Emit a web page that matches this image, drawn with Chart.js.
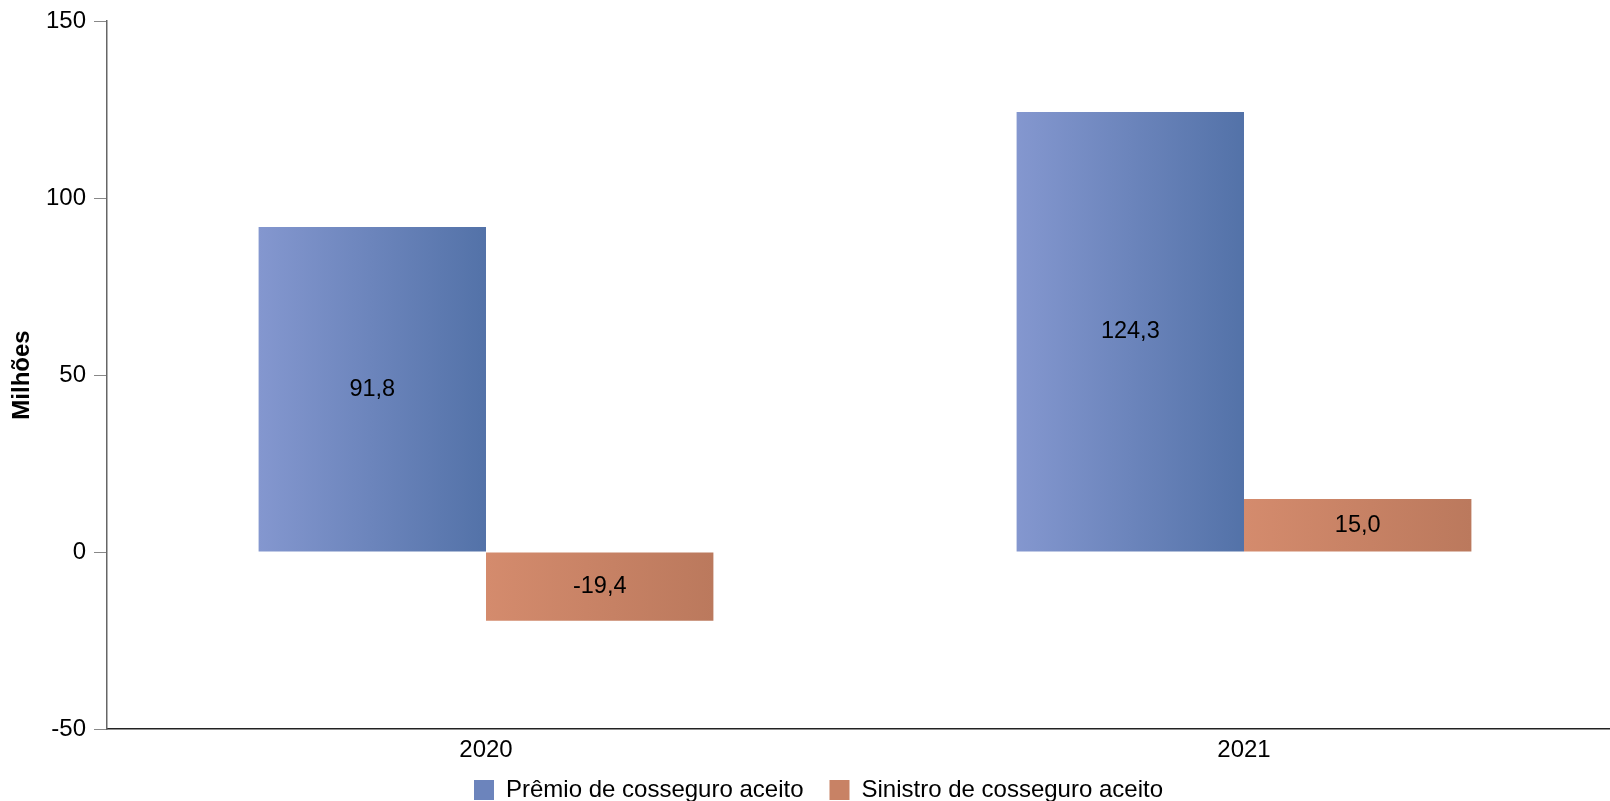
<!DOCTYPE html>
<html>
<head>
<meta charset="utf-8">
<script src="https://cdn.jsdelivr.net/npm/chart.js@4"></script>
<style>
  html, body { margin: 0; padding: 0; background: #fff; overflow: hidden; }
  #wrap { width: 1610px; height: 801px; }
</style>
</head>
<body>
<div id="wrap"><canvas id="chart"></canvas></div>
<script>
const years = ["2020", "2021"];
const premio = [91.8, 124.3];
const sinistro = [-19.4, 15.0];
const seriesNames = ["Prêmio de cosseguro aceito", "Sinistro de cosseguro aceito"];
const yTicks = [-50, 0, 50, 100, 150];

// gradient ends for each series (left -> right)
const blueStops = ["rgb(132,151,207)", "rgb(83,114,168)"];
const orangeStops = ["rgb(212,139,109)", "rgb(187,121,93)"];

const FONT = "'Liberation Sans', Arial, sans-serif";
const fmt = v => v.toFixed(1).replace(".", ",");

// plot box as measured on the reference
const AREA = { left: 107, top: 21, right: 1623, bottom: 729 };

// pin the plot area, axes and legend where the reference has them
const pinArea = {
  id: "pinArea",
  afterLayout(chart) {
    const a = chart.chartArea;
    Object.assign(a, AREA, { width: AREA.right - AREA.left, height: AREA.bottom - AREA.top });
    const x = chart.scales.x, y = chart.scales.y;
    Object.assign(x, { left: AREA.left, right: AREA.right, width: a.width, top: AREA.bottom, bottom: AREA.bottom + 36, height: 36 });
    Object.assign(y, { left: 0, right: AREA.left, width: AREA.left, top: AREA.top, bottom: AREA.bottom, height: a.height });
    x.configure();
    y.configure();
    const lg = chart.legend;
    const h = lg.bottom - lg.top;
    lg.top = 752;
    lg.bottom = lg.top + h;
    lg.left = 27;
    lg.right = 1610;
  }
};

// paint every bar with a horizontal gradient spanning its own width
const barGradient = {
  id: "barGradient",
  beforeDatasetsDraw(chart) {
    const ctx = chart.ctx;
    chart.data.datasets.forEach((ds, i) => {
      const stops = ds.gradStops;
      chart.getDatasetMeta(i).data.forEach(bar => {
        const g = ctx.createLinearGradient(bar.x - bar.width / 2, 0, bar.x + bar.width / 2, 0);
        g.addColorStop(0, stops[0]);
        g.addColorStop(1, stops[1]);
        bar.options.backgroundColor = g;
      });
    });
  }
};

// value in the middle of each bar
const barValues = {
  id: "barValues",
  afterDatasetsDraw(chart) {
    const ctx = chart.ctx;
    ctx.save();
    ctx.font = "23.5px " + FONT;
    ctx.fillStyle = "#000";
    ctx.textAlign = "center";
    ctx.textBaseline = "middle";
    chart.data.datasets.forEach((ds, i) => {
      chart.getDatasetMeta(i).data.forEach((bar, j) => {
        ctx.fillText(fmt(ds.data[j]), bar.x, (bar.y + bar.base) / 2);
      });
    });
    ctx.restore();
  }
};

const ctx = document.getElementById("chart").getContext("2d");
new Chart(ctx, {
  type: "bar",
  data: {
    labels: years,
    datasets: [{
      label: seriesNames[0],
      data: premio,
      gradStops: blueStops,
      // scriptable so each bar keeps its own options object
      backgroundColor: c => c.type === "data" ? "rgb(108,132,188)" : "rgb(108,132,188)",
      borderWidth: 0
    }, {
      label: seriesNames[1],
      data: sinistro,
      gradStops: orangeStops,
      backgroundColor: c => c.type === "data" ? "rgb(200,130,101)" : "rgb(200,130,101)",
      borderWidth: 0
    }]
  },
  options: {
    responsive: true,
    maintainAspectRatio: false,
    animation: false,
    datasets: { bar: { categoryPercentage: 0.6, barPercentage: 1.0 } },
    plugins: {
      tooltip: { enabled: false },
      legend: {
        position: "bottom",
        labels: {
          font: { family: FONT, size: 24 },
          color: "#000",
          boxWidth: 20,
          boxHeight: 20,
          padding: 26
        }
      }
    },
    scales: {
      x: {
        grid: { display: false, drawTicks: false },
        border: { color: "#222", width: 1.5 },
        ticks: {
          color: "#000",
          padding: 7,
          font: { family: FONT, size: 24 }
        }
      },
      y: {
        min: -50,
        max: 150,
        afterBuildTicks: s => { s.ticks = yTicks.map(v => ({ value: v })); },
        grid: { drawOnChartArea: false, drawTicks: true, tickLength: 13, color: "#888" },
        border: { color: "#666", width: 1.5 },
        title: {
          display: true,
          text: "Milhões",
          color: "#000",
          padding: { top: 8, bottom: 0 },
          font: { family: FONT, size: 24, weight: "bold" }
        },
        ticks: {
          color: "#000",
          padding: 8,
          font: { family: FONT, size: 24 }
        }
      }
    }
  },
  plugins: [pinArea, barGradient, barValues]
});
</script>
</body>
</html>
